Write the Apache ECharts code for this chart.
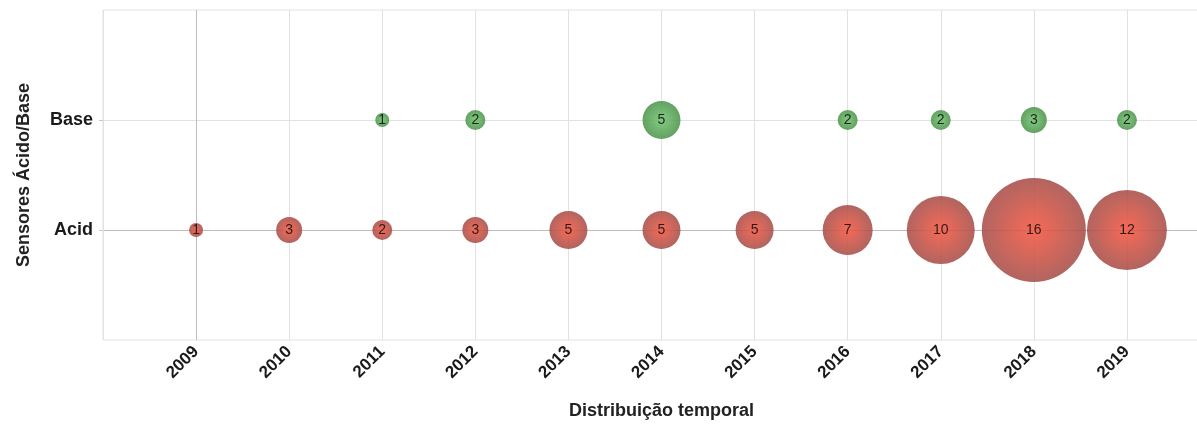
<!DOCTYPE html>
<html>
<head>
<meta charset="utf-8">
<script src="https://cdn.jsdelivr.net/npm/echarts@6/dist/echarts.min.js"></script>
<style>
  html, body { margin: 0; padding: 0; background: #fff; }
  #chart { width: 1197px; height: 426px; }
</style>
</head>
<body>
<div id="chart"></div>
<script>
// anos e contagens por tipo de sensor
const years = [2009, 2010, 2011, 2012, 2013, 2014, 2015, 2016, 2017, 2018, 2019]
const acidCounts = [1, 3, 2, 3, 5, 5, 5, 7, 10, 16, 12]
const baseCounts = [null, null, 1, 2, null, 5, null, 2, 2, 3, 2]
const sensorTypes = ['Acid', 'Base'] // y = 1, 2

const font = 'Arial, "Liberation Sans", Helvetica, sans-serif'

const toPoints = (counts, row) =>
  years.map((y, i) => counts[i] == null ? null : [y, row, counts[i]]).filter(Boolean)

const radial = (inner, outer) => new echarts.graphic.RadialGradient(0.5, 0.5, 0.5, [
  { offset: 0, color: inner },
  { offset: 1, color: outer },
])

const chart = echarts.init(document.getElementById('chart'))

const bubble = (name, data, inner, outer) => ({
  name,
  type: 'scatter',
  data,
  symbolSize: v => 8 + 6 * v[2], // diâmetro cresce linearmente com a contagem
  itemStyle: { color: radial(inner, outer), opacity: 0.88 },
  label: {
    show: true,
    position: 'inside',
    formatter: p => p.value[2],
    color: '#111',
    fontFamily: font,
    fontSize: 14,
  },
  emphasis: { disabled: true },
})

chart.setOption({
  animation: false,
  grid: {
    left: 103,
    top: 10,
    width: 1117, // painel continua além da borda direita da imagem
    height: 330,
    outerBoundsMode: 'none',
    containLabel: false,
    show: true,
    borderColor: '#e2e2e2',
    borderWidth: 1,
  },
  xAxis: {
    type: 'value',
    min: 2008,
    max: 2020,
    interval: 1,
    name: 'Distribuição temporal',
    nameLocation: 'middle',
    nameGap: 62,
    nameTextStyle: { fontFamily: font, fontWeight: 'bold', fontSize: 18, color: '#222' },
    axisLine: { show: false },
    axisTick: { show: false },
    axisLabel: {
      rotate: 45,
      margin: 9,
      fontFamily: font,
      fontWeight: 'bold',
      fontSize: 17,
      color: '#1a1a1a',
      formatter: v => (years.includes(v) ? String(v) : ''),
    },
    splitLine: {
      lineStyle: {
        color: ['#e2e2e2', '#bdbdbd', '#e2e2e2', '#e2e2e2', '#e2e2e2', '#e2e2e2', '#e2e2e2',
          '#e2e2e2', '#e2e2e2', '#e2e2e2', '#e2e2e2', '#e2e2e2', '#e2e2e2'],
      },
    },
  },
  yAxis: {
    type: 'value',
    min: 0,
    max: 3,
    interval: 1,
    name: 'Sensores Ácido/Base',
    nameLocation: 'middle',
    nameGap: 70,
    nameTextStyle: { fontFamily: font, fontWeight: 'bold', fontSize: 18, color: '#222' },
    axisLine: { show: false },
    axisTick: { show: true, length: 4, customValues: [1, 2], lineStyle: { color: '#c8c8c8' } },
    axisLabel: {
      margin: 10,
      fontFamily: font,
      fontWeight: 'bold',
      fontSize: 18,
      color: '#1a1a1a',
      formatter: v => sensorTypes[v - 1] || '',
    },
    splitLine: {
      lineStyle: { color: ['#bdbdbd', '#e2e2e2', '#e2e2e2', '#e2e2e2'] },
    },
  },
  series: [
    bubble('Acid', toPoints(acidCounts, 1), '#f5553f', '#a64f4a'),
    bubble('Base', toPoints(baseCounts, 2), '#72c472', '#4c944c'),
  ],
})
</script>
</body>
</html>
